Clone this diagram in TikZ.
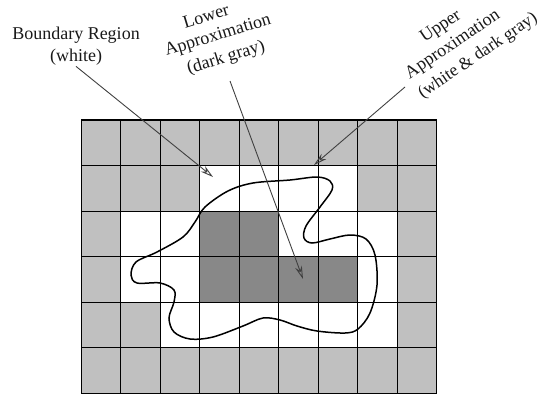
\documentclass[tikz,border=0pt]{standalone}
\usepackage{fontspec}
\setmainfont{Liberation Serif}
\usetikzlibrary{arrows.meta}
\definecolor{lightcell}{HTML}{C0C0C0}
\definecolor{darkcell}{HTML}{888888}
\definecolor{arrowgray}{HTML}{404040}
\begin{document}
\begin{tikzpicture}[x=1pt,y=-1pt,
  lbl/.style={font=\fontsize{18}{22}\selectfont, align=center, inner sep=1pt, text=black!90},
  gridline/.style={draw=black, line width=1pt},
  gridthick/.style={draw=black, line width=1.6pt},
  contour/.style={draw=black, line width=1.5pt},
  pointer/.style={draw=arrowgray, line width=0.9pt, -{Stealth[open, length=13pt, width=7pt]}}]
\useasboundingbox (0,0) rectangle (543,394);
% cells
\fill[lightcell] (81,120) rectangle (436.5,393);
\foreach \r/\c in {1/3,1/4,1/5,1/6, 2/1,2/2,2/5,2/6,2/7, 3/1,3/2,3/7, 4/2,4/3,4/4,4/5,4/6,4/7}
  \fill[white] ({81+39.5*\c},{120+45.5*\r}) rectangle ++(39.5,45.5);
\foreach \r/\c in {2/3,2/4, 3/3,3/4,3/5,3/6}
  \fill[darkcell] ({81+39.5*\c},{120+45.5*\r}) rectangle ++(39.5,45.5);
% grid lines
\foreach \i in {0,...,9}
  \draw[gridline] ({81+39.5*\i},120) -- ({81+39.5*\i},393);
\foreach \j in {1,2,4,5,6}
  \draw[gridline] (81,{120+45.5*\j}) -- (436.5,{120+45.5*\j});
\draw[gridthick] (81,120) -- (436.5,120);
\draw[gridthick] (81,256.5) -- (436.5,256.5);
% contour of the set
\draw[contour] plot[smooth cycle, tension=0.55] coordinates {
  (253,183) (290,180) (317,177) (330,181) (332,190) (320,207) (306,226)
  (304,238) (312,243) (330,239) (350,235) (366,239) (375,255) (377,285)
  (370,313) (358,329) (345,333) (317,331) (297,326) (280,320) (263,318)
  (243,326) (213,337) (190,339) (174,332) (169,318) (174,302) (174,290)
  (160,283) (137,283) (131,275) (136,262) (157,252) (183,237) (195,222)
  (205,207) (228,191)};
% labels
\node[lbl] (boundary) at (76,46) {Boundary Region\\(white)};
\node[lbl, rotate=17] (lowerA) at (206,16) {Lower};
\node[lbl, rotate=17] (lowerB) at (218,36) {Approximation};
\node[lbl, rotate=17] (lowerC) at (226,58) {(dark gray)};
\node[lbl, rotate=34] (upperA) at (441,27) {Upper};
\node[lbl, rotate=34] (upperB) at (453,45) {Approximation};
\node[lbl, rotate=34, font=\fontsize{17.5}{22}\selectfont] (upperC) at (478,56) {(white \& dark gray)};
% connectors
\coordinate (btip) at (213,177);
\coordinate (ltip) at (303,279);
\coordinate (utip) at (314,165);
\coordinate (lstart) at (230,81);
\coordinate (ustart) at (405,87);
\draw[pointer] (boundary.south) -- (btip);
\draw[pointer] (lstart) -- (ltip);
\draw[pointer] (ustart) -- (utip);
\end{tikzpicture}
\end{document}
